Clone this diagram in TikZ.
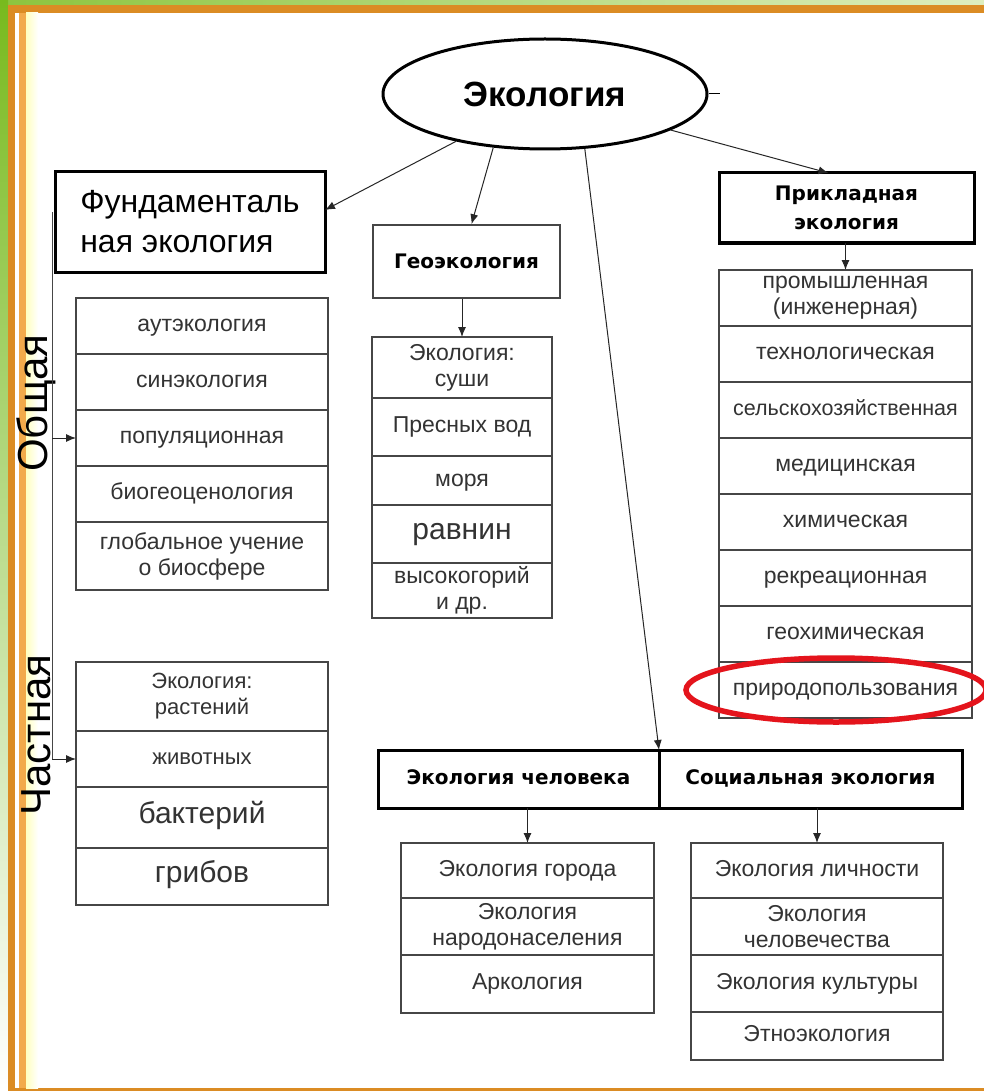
\documentclass[tikz,border=0pt]{standalone}
\usepackage{fontspec}
\setmainfont{Liberation Sans}
\newfontfamily\labelfont{DejaVu Sans}
\usetikzlibrary{arrows.meta}
\usetikzlibrary{positioning}
\usetikzlibrary{shapes.geometric}

\definecolor{frameorange}{RGB}{219,140,36}
\definecolor{lightorange}{RGB}{242,170,75}
\definecolor{leafgreen}{RGB}{120,186,30}
\definecolor{palegreen}{RGB}{222,238,190}
\definecolor{markred}{RGB}{228,20,28}
\definecolor{boxgray}{RGB}{70,70,70}

\tikzset{
  cellbase/.style={draw=boxgray, line width=1.4pt, minimum width=252pt, inner sep=1pt,
    outer sep=0pt, align=center, text=black!80, font=\fontsize{23}{26}\selectfont},
  cell/.style={cellbase, text height=16pt, text depth=5pt},
  headbox/.style={draw=black, line width=3pt, outer sep=0pt, align=center,
    font=\labelfont\bfseries\fontsize{20}{29}\selectfont},
  link/.style={-{Latex[length=10pt,width=8pt]}, line width=1pt, black!85},
}

\begin{document}
\begin{tikzpicture}[x=1pt,y=-1pt]
    \useasboundingbox (0,0) rectangle (984,1091);
    \clip (0,0) rectangle (984,1091);
    % frame
    \fill[white] (0,0) rectangle (984,1091);
    \shade[left color=leafgreen!80!palegreen, middle color=leafgreen, right color=palegreen] (0,0) rectangle (984,6);
    \shade[top color=leafgreen, bottom color=white] (0,0) rectangle (8,1091);
    \fill[frameorange] (8,5) rectangle (984,13);
    \fill[frameorange] (8,5) rectangle (15,1091);
    \fill[frameorange] (8,1088) rectangle (984,1091);
    \fill[lightorange] (19,13) rectangle (26,1088);
    \shade[left color=yellow!25, right color=white] (26,13) rectangle (38,1088);

    % root
    \node[ellipse, draw, line width=3pt, minimum width=324pt, minimum height=110pt,
      font=\bfseries\fontsize{35}{38}\selectfont] (eco) at (545,94) {Экология};
    \coordinate (stub) at (720,94);
    \draw[line width=1pt] (eco.east) -- (stub);

    % fundamental
    \node[headbox, font=\fontsize{32}{40}\selectfont, align=left, minimum width=270pt,
      minimum height=100pt] (fund) at (190,222) {Фундаменталь\\ная экология};
    \node[cell, minimum height=56pt, anchor=north] (a1) at (202,298) {аутэкология};
    \node[cell, minimum height=56pt, below=0pt of a1] (a2) {синэкология};
    \node[cell, minimum height=56pt, below=0pt of a2] (a3) {популяционная};
    \node[cell, minimum height=56pt, below=0pt of a3] (a4) {биогеоценология};
    \node[cellbase, minimum height=68pt, below=0pt of a4] (a5) {глобальное учение\\о биосфере};

    \node[cellbase, minimum height=69pt, anchor=north, font=\fontsize{22}{26}\selectfont] (b1) at (202,662) {Экология:\\растений};
    \node[cell, minimum height=56pt, below=0pt of b1, font=\fontsize{22}{24}\selectfont] (b2) {животных};
    \node[cell, minimum height=61pt, below=0pt of b2, font=\fontsize{30}{32}\selectfont] (b3) {бактерий};
    \node[cell, minimum height=57pt, below=0pt of b3, font=\fontsize{30}{32}\selectfont] (b4) {грибов};

    \node[rotate=90, font=\fontsize{42}{44}\selectfont] (obsh) at (36,403) {Общая};
    \node[rotate=90, font=\fontsize{42}{44}\selectfont] (chast) at (36,735) {Частная};

    \coordinate (brtop) at (52,212);
    \draw[line width=1pt, boxgray] (brtop) -- (brtop |- b2.west);
    \draw[link] (brtop |- a3.west) -- (a3.west);
    \draw[link] (brtop |- b2.west) -- (b2.west);

    % geoecology
    \node[draw=boxgray, line width=1.6pt, minimum width=187pt, minimum height=73pt,
      font=\labelfont\bfseries\fontsize{20}{24}\selectfont] (geo) at (466.5,261.5) {Геоэкология};
    \node[cellbase, minimum width=180pt, minimum height=61pt, anchor=north] (g1) at (462,337) {Экология:\\суши};
    \node[cell, minimum width=180pt, minimum height=58pt, below=0pt of g1] (g2) {Пресных вод};
    \node[cell, minimum width=180pt, minimum height=49pt, below=0pt of g2] (g3) {моря};
    \node[cell, minimum width=180pt, minimum height=58pt, below=0pt of g3, font=\fontsize{30}{32}\selectfont] (g4) {равнин};
    \node[cellbase, minimum width=180pt, minimum height=55pt, below=0pt of g4] (g5) {высокогорий\\и др.};

    % applied
    \node[headbox, minimum width=255pt, minimum height=70pt] (prikl) at (846.5,208) {Прикладная\\экология};
    \node[cellbase, minimum width=253pt, minimum height=56pt, anchor=north] (r1) at (845.5,270) {промышленная\\(инженерная)};
    \node[cell, minimum width=253pt, minimum height=56pt, below=0pt of r1] (r2) {технологическая};
    \node[cell, minimum width=253pt, minimum height=56pt, below=0pt of r2, font=\fontsize{21.5}{24}\selectfont] (r3) {сельскохозяйственная};
    \node[cell, minimum width=253pt, minimum height=56pt, below=0pt of r3] (r4) {медицинская};
    \node[cell, minimum width=253pt, minimum height=56pt, below=0pt of r4] (r5) {химическая};
    \node[cell, minimum width=253pt, minimum height=56pt, below=0pt of r5] (r6) {рекреационная};
    \node[cell, minimum width=253pt, minimum height=56pt, below=0pt of r6] (r7) {геохимическая};
    \node[cell, minimum width=253pt, minimum height=56pt, below=0pt of r7] (r8) {природопользования};

    % human and social
    \node[headbox, minimum width=281pt, minimum height=58pt, text height=15pt, text depth=4pt] (hl) at (518.5,779) {Экология человека};
    \node[headbox, minimum width=303pt, minimum height=58pt, text height=15pt, text depth=4pt, right=0pt of hl] (hr) {Социальная экология};

    \node[cell, minimum width=253pt, minimum height=55pt, anchor=north] (h1) at (527.5,843) {Экология города};
    \node[cellbase, minimum width=253pt, minimum height=57pt, below=0pt of h1] (h2) {Экология\\народонаселения};
    \node[cell, minimum width=253pt, minimum height=58pt, below=0pt of h2] (h3) {Аркология};

    \node[cell, minimum height=55pt, anchor=north] (s1) at (817,843) {Экология личности};
    \node[cellbase, minimum height=57pt, below=0pt of s1] (s2) {Экология\\человечества};
    \node[cell, minimum height=57pt, below=0pt of s2] (s3) {Экология культуры};
    \node[cell, minimum height=48pt, below=0pt of s3] (s4) {Этноэкология};

    % arrows
    \draw[link] (eco.208) -- ([yshift=12pt]fund.east);
    \draw[link] (eco.226) -- ([xshift=5pt]geo.north);
    \draw[link] (eco.306) -- (hl.north east);
    \draw[link] (eco.344) -- ([xshift=-18pt]prikl.north);
    \draw[link] (geo.south -| g1.north) -- (g1.north);
    \draw[link] (prikl.south -| r1.north) -- (r1.north);
    \draw[link] (hl.south -| h1.north) -- (h1.north);
    \draw[link] (hr.south -| s1.north) -- (s1.north);

    % highlight
    \draw[markred, line width=5.5pt] (836,690) ellipse [x radius=150, y radius=32];
\end{tikzpicture}
\end{document}
